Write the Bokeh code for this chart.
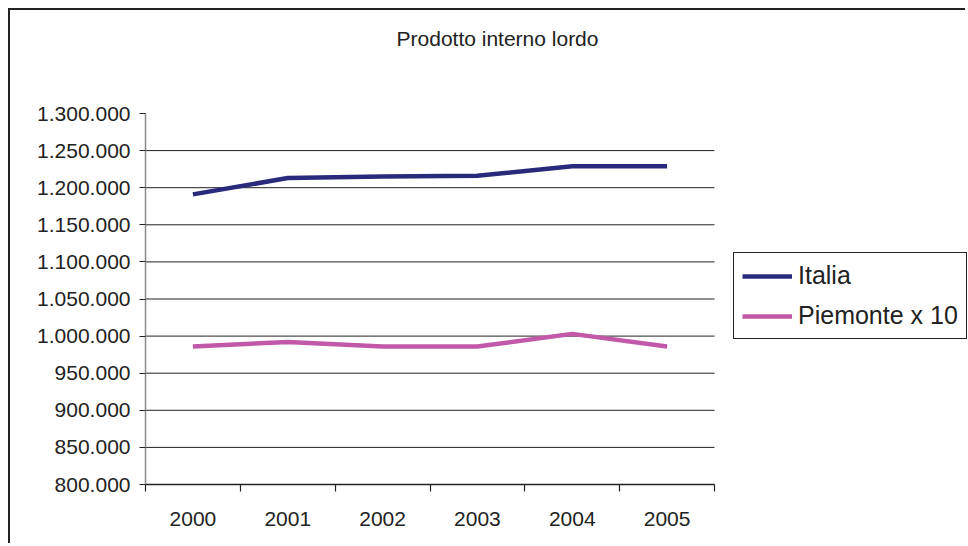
from bokeh.plotting import figure
from bokeh.models import (Range1d, LinearAxis, FixedTicker, Label,
                          Legend, LegendItem, CustomJSTickFormatter)
from bokeh.embed import file_html
from bokeh.resources import INLINE

# ---- data ----
years = ["2000", "2001", "2002", "2003", "2004", "2005"]
italia = [1191000, 1213000, 1215000, 1216000, 1229000, 1229000]
piemonte_x10 = [986000, 992000, 986000, 986000, 1003000, 986000]
series_names = ["Italia", "Piemonte x 10"]
y_ticks = [800000, 850000, 900000, 950000, 1000000, 1050000,
           1100000, 1150000, 1200000, 1250000, 1300000]
y_tick_labels = ["800.000", "850.000", "900.000", "950.000", "1.000.000", "1.050.000",
                 "1.100.000", "1.150.000", "1.200.000", "1.250.000", "1.300.000"]
title_text = "Prodotto interno lordo"

FONT = "Liberation Sans"
DARK = "#222222"
NAVY = "#2a2a7c"
PINK = "#c259a8"

LOOKUP = "const i = tv.indexOf(tick); return i >= 0 ? lab[i] : '';"

# ---- layout (pixels) ----
W, H = 957, 535
FRAME_W, FRAME_H = 822, 474      # drawing frame (extends to top/right edges)
DATA_W, DATA_H = 569, 371        # part of the frame used by the axes

n = len(years)
x_pos = [i + 0.5 for i in range(n)]
x_edges = list(range(n + 1))
y0, y1 = y_ticks[0], y_ticks[-1]

p = figure(width=W, height=H,
           x_range=Range1d(0, n * FRAME_W / DATA_W),
           y_range=Range1d(y0, y0 + (y1 - y0) * FRAME_H / DATA_H),
           x_axis_type=None, y_axis_type=None,
           output_backend="svg", toolbar_location=None,
           min_border_left=135, min_border_right=0,
           min_border_top=0, min_border_bottom=H - FRAME_H,
           outline_line_color=None,
           background_fill_color="white", border_fill_color="white",
           styles={"margin-left": "8px", "margin-top": "8px",
                   "border-left": "2px solid #222", "border-top": "2px solid #222"})

# y axis
yaxis = LinearAxis(ticker=FixedTicker(ticks=y_ticks), bounds=(y0, y1),
                   formatter=CustomJSTickFormatter(args=dict(tv=y_ticks, lab=y_tick_labels), code=LOOKUP),
                   axis_line_color="#8a8a8a", axis_line_width=1.5,
                   major_tick_line_color=DARK, major_tick_out=6, major_tick_in=0,
                   minor_tick_line_color=None,
                   major_label_text_font=FONT, major_label_text_font_size="21px",
                   major_label_text_color=DARK, major_label_standoff=9)
p.add_layout(yaxis, "left")

# horizontal grid lines over the category area only (interior ticks)
grid_vals = y_ticks[1:-1]
p.segment(x0=[0] * len(grid_vals), x1=[n] * len(grid_vals), y0=grid_vals, y1=grid_vals,
          line_color=DARK, line_width=1)

# x axis: year labels at slot centres, tick marks at slot edges
xaxis = LinearAxis(ticker=FixedTicker(ticks=x_pos, minor_ticks=x_edges), bounds=(0, n),
                   formatter=CustomJSTickFormatter(args=dict(tv=x_pos, lab=years), code=LOOKUP),
                   axis_line_color=DARK, axis_line_width=1.5,
                   major_tick_line_color=None, major_tick_out=7, major_tick_in=0,
                   minor_tick_line_color=DARK, minor_tick_out=7, minor_tick_in=0,
                   minor_tick_line_width=1.2,
                   major_label_text_font=FONT, major_label_text_font_size="21px",
                   major_label_text_color=DARK, major_label_standoff=20)
p.add_layout(xaxis, "below")

# lines
r1 = p.line(x_pos, italia, line_color=NAVY, line_width=4.5)
r2 = p.line(x_pos, piemonte_x10, line_color=PINK, line_width=4.5)

# title
p.add_layout(Label(x=352, y=446, x_units="screen", y_units="screen", text=title_text,
                   text_align="center", text_baseline="middle",
                   text_font=FONT, text_font_size="21px", text_color=DARK))

legend = Legend(items=[LegendItem(label=series_names[0], renderers=[r1]),
                       LegendItem(label=series_names[1], renderers=[r2])],
                location=(588, 145),
                label_text_font=FONT, label_text_font_size="25px", label_text_color=DARK,
                glyph_width=50, glyph_height=28, label_standoff=6,
                spacing=11, padding=8, margin=0,
                border_line_color=DARK, border_line_width=1.5, border_line_alpha=1.0,
                background_fill_color="white", background_fill_alpha=1.0)
p.add_layout(legend, "center")

open("out.html", "w").write(file_html(p, INLINE))
